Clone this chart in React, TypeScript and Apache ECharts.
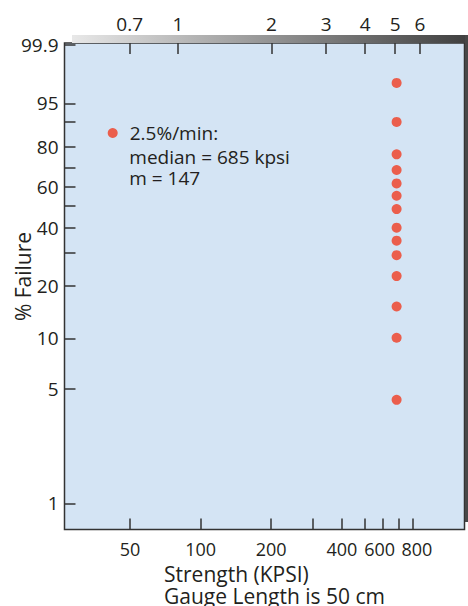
import React, { useEffect, useRef } from "react";
import * as echarts from "echarts";

// ---- data ----
const seriesName = "2.5%/min:";
const medianKpsi = 685;
const weibullModulus = 147;
const strengthKpsi = [685, 685, 685, 685, 685, 685, 685, 685, 685, 685, 685, 685, 685, 685];
const failurePct = [4.3, 10.1, 15.3, 22.6, 29.2, 34.6, 40.0, 48.6, 55.3, 61.7, 68.7, 76.6, 90.0, 98.2];

const failureTicks = [1, 5, 10, 20, 30, 40, 50, 60, 70, 80, 90, 95, 99.9];
const failureLabels = [1, 5, 10, 20, 40, 60, 80, 95, 99.9];
const kpsiTicks = [50, 100, 200, 300, 400, 500, 600, 700, 800];
const kpsiLabels = [50, 100, 200, 400, 600, 800];
const gpaTicks = [0.7, 1, 2, 3, 4, 5, 6];

const xTitle = ["Strength (KPSI)", "Gauge Length is 50 cm"];
const yTitle = "% Failure";

// ---- scale transforms (Weibull probability paper, log strength) ----
const weib = (p: number) => Math.log(-Math.log(1 - p / 100));
const lg = (v: number) => Math.log10(v);

// axis extents in transformed units
const X_MIN = 1.4195;
const X_MAX = 3.1252;
const TOP_MIN = -0.3645;
const TOP_MAX = 0.9217;
const Y_MIN = -4.9715;
const Y_MAX = 1.9587;

const FONT = "'Open Sans', 'Noto Sans', sans-serif";
const TEXT = "#231f20";
const LINE = "#333333";

function finder(list: number[], f: (v: number) => number) {
  return (v: number) => {
    const i = list.findIndex((p) => Math.abs(f(p) - v) < 1e-6);
    return i >= 0 ? String(list[i]) : "";
  };
}

export default function App() {
  const ref = useRef<HTMLDivElement>(null);
  useEffect(() => {
    const chart = echarts.init(ref.current!, null, { renderer: "svg" });
    const labelStyle = {
      fontFamily: FONT,
      fontSize: 19,
      color: TEXT,
      lineHeight: 20,
      hideOverlap: false,
    };
    const tick = { show: true, inside: true, length: 11, lineStyle: { color: LINE, width: 1.5 } };
    const noLine = { show: false, onZero: false };
    const bottomFmt = finder(kpsiLabels, lg);
    const richBase = { fontFamily: FONT, fontSize: 18, color: TEXT, lineHeight: 20 };
    const option: any = {
      animation: false,
      backgroundColor: "#ffffff",
      grid: {
        left: 64.5,
        right: 3.5,
        top: 43,
        bottom: 76.5,
        containLabel: false,
        outerBoundsMode: "none",
        show: true,
        backgroundColor: "#d4e4f4",
        borderColor: LINE,
        borderWidth: 1.5,
      },
      legend: {
        data: [seriesName],
        left: 107.7,
        top: 122,
        icon: "circle",
        itemWidth: 10,
        itemHeight: 10,
        selectedMode: false,
        padding: 0,
        textStyle: {
          fontFamily: FONT,
          fontSize: 19,
          color: TEXT,
          lineHeight: 22,
          padding: [0, 0, 0, 7],
        },
      },
      xAxis: [
        {
          type: "value",
          position: "bottom",
          min: X_MIN,
          max: X_MAX,
          axisLine: noLine,
          splitLine: { show: false },
          axisTick: { ...tick, customValues: kpsiTicks.map(lg) },
          axisLabel: {
            ...labelStyle,
            fontSize: 18,
            margin: 9,
            // trailing blank label at the axis end keeps "600" and "800" both visible
            customValues: [...kpsiLabels.map(lg), X_MAX],
            formatter: (v: number) => {
              const s = bottomFmt(v);
              if (s === "600") return `{l|${s}}`;
              if (s === "800") return `{r|${s}}`;
              return s;
            },
            rich: {
              l: { ...richBase, padding: [0, 7, 0, 0] },
              r: { ...richBase, padding: [0, 0, 0, 9] },
            },
          },
        },
        {
          type: "value",
          position: "top",
          min: TOP_MIN,
          max: TOP_MAX,
          axisLine: noLine,
          splitLine: { show: false },
          axisTick: { ...tick, customValues: gpaTicks.map(lg) },
          axisLabel: {
            ...labelStyle,
            margin: 9,
            customValues: gpaTicks.map(lg),
            formatter: finder(gpaTicks, lg),
          },
        },
      ],
      yAxis: {
        type: "value",
        min: Y_MIN,
        max: Y_MAX,
        axisLine: noLine,
        splitLine: { show: false },
        axisTick: { ...tick, customValues: failureTicks.map(weib) },
        axisLabel: {
          ...labelStyle,
          margin: 6,
          customValues: failureLabels.map(weib),
          formatter: finder(failureLabels, weib),
        },
      },
      series: [
        {
          name: seriesName,
          type: "scatter",
          xAxisIndex: 0,
          symbol: "circle",
          symbolSize: 10,
          itemStyle: { color: "#f03c22" },
          data: strengthKpsi.map((s, i) => [lg(s), weib(failurePct[i])]),
          z: 5,
        },
      ],
      graphic: [
        {
          type: "rect",
          shape: { x: 72, y: 35, width: 396, height: 8 },
          style: {
            fill: new echarts.graphic.LinearGradient(0, 0, 1, 0, [
              { offset: 0, color: "#e8e8e8" },
              { offset: 1, color: "#3f3f3f" },
            ]),
          },
          silent: true,
        },
        {
          type: "rect",
          shape: { x: 465, y: 35, width: 3, height: 487 },
          style: { fill: "#474747" },
          silent: true,
        },
        {
          type: "text",
          x: 23,
          y: 276.5,
          rotation: Math.PI / 2,
          style: {
            text: yTitle,
            fontFamily: FONT,
            fontSize: 21,
            fill: TEXT,
            verticalAlign: "middle",
            align: "center",
          },
        },
        {
          type: "text",
          x: 129.3,
          y: 157.3,
          style: {
            text: `median = ${medianKpsi} kpsi`,
            fontFamily: FONT,
            fontSize: 19,
            fill: TEXT,
            verticalAlign: "middle",
            align: "left",
          },
        },
        {
          type: "text",
          x: 129.3,
          y: 178,
          style: {
            text: `m = ${weibullModulus}`,
            fontFamily: FONT,
            fontSize: 19,
            fill: TEXT,
            verticalAlign: "middle",
            align: "left",
          },
        },
        {
          type: "text",
          x: 164,
          y: 563,
          style: {
            text: xTitle.join("\n"),
            fontFamily: FONT,
            fontSize: 21,
            lineHeight: 21.7,
            fill: TEXT,
            verticalAlign: "top",
            align: "left",
          },
        },
      ],
    };
    chart.setOption(option);
    return () => chart.dispose();
  }, []);
  return (
    <div
      ref={ref}
      style={{ position: "absolute", left: 0, top: 0, width: 468, height: 606, background: "#fff" }}
    />
  );
}
